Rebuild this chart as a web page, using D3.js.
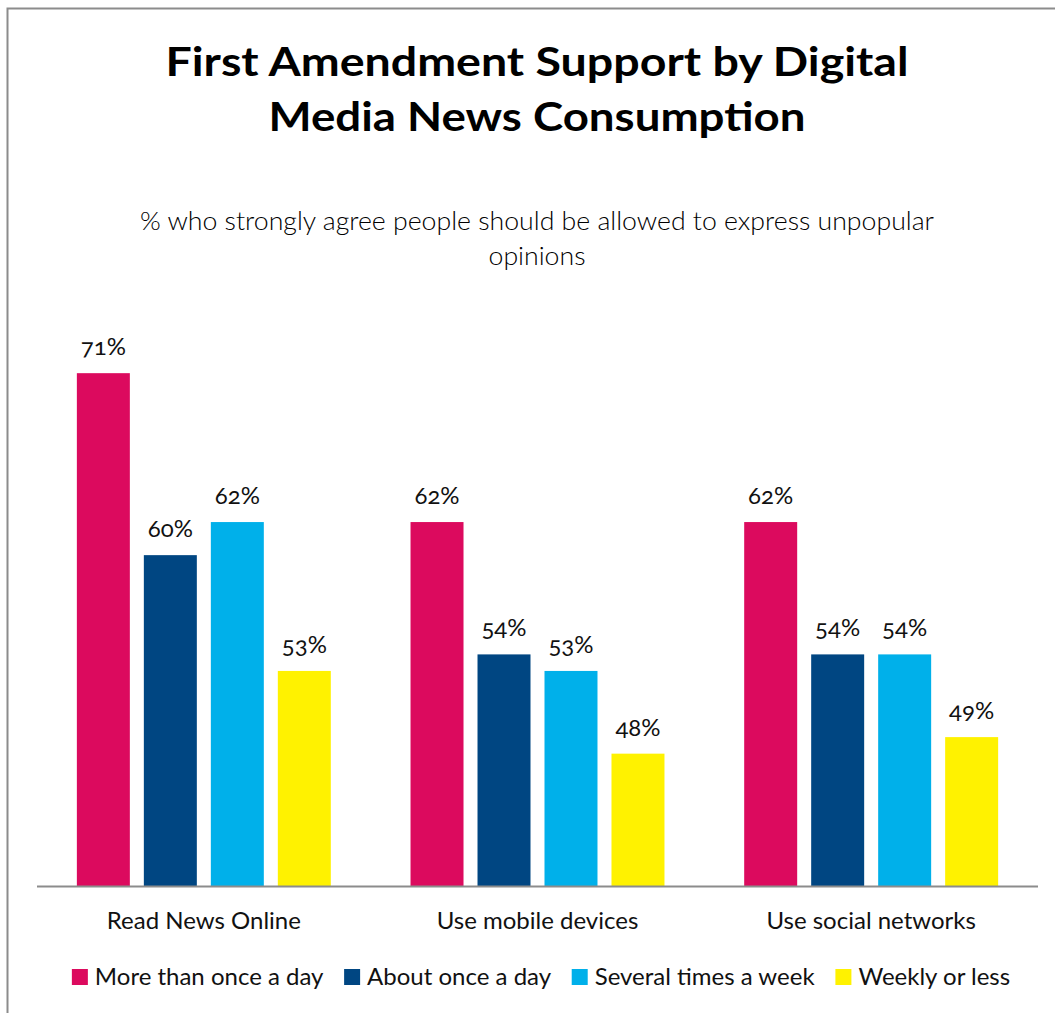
<!DOCTYPE html>
<html>
<head>
<meta charset="utf-8">
<script src="https://cdn.jsdelivr.net/npm/d3@7"></script>
<style>
  html, body { margin: 0; padding: 0; background: #fff; }
  svg { display: block; font-family: Lato, "Open Sans", sans-serif; }
</style>
</head>
<body>
<svg id="chart" width="1055" height="1013"></svg>
<script>
// Survey groups and consumption-frequency series
const categories = ["Read News Online", "Use mobile devices", "Use social networks"];
const seriesNames = ["More than once a day", "About once a day", "Several times a week", "Weekly or less"];
const seriesColors = ["#DC0A5E", "#004682", "#00B0EA", "#FFF200"];
// values[series][category], percent strongly agreeing
const moreThanOnceADay = [71, 62, 62];
const aboutOnceADay = [60, 54, 54];
const severalTimesAWeek = [62, 53, 54];
const weeklyOrLess = [53, 48, 49];
const values = [moreThanOnceADay, aboutOnceADay, severalTimesAWeek, weeklyOrLess];
const yDomain = [40, 75];
const titleLines = ["First Amendment Support by Digital", "Media News Consumption"];
const subtitleLines = ["% who strongly agree people should be allowed to express unpopular", "opinions"];

const svg = d3.select("#chart");
const W = 1055, H = 1013;

// outer frame
svg.append("rect")
  .attr("x", 7.5).attr("y", 8.5).attr("width", W + 10).attr("height", H + 10)
  .attr("fill", "none").attr("stroke", "#8c8c8c").attr("stroke-width", 2);

// titles
const title = svg.append("g").attr("text-anchor", "middle");
const titleWidths = [743, 537];
titleLines.forEach((t, i) => {
  title.append("text")
    .attr("x", 537).attr("y", 76 + i * 55)
    .attr("font-size", 41).attr("font-weight", 700).attr("fill", "#000")
    .attr("textLength", titleWidths[i]).attr("lengthAdjust", "spacingAndGlyphs")
    .text(t);
});
const subWidths = [794, 97];
subtitleLines.forEach((t, i) => {
  title.append("text")
    .attr("x", 537).attr("y", 230 + i * 35)
    .attr("font-size", 25).attr("font-weight", 300).attr("fill", "#000")
    .attr("textLength", subWidths[i]).attr("lengthAdjust", "spacingAndGlyphs")
    .text(t);
});

// scales
const x0 = d3.scaleBand().domain(categories).range([37, 1038]).paddingInner(0).paddingOuter(0);
const x1 = d3.scaleBand().domain(seriesNames).range([0, x0.bandwidth()])
  .paddingInner(0.209).paddingOuter(0.595);
const y = d3.scaleLinear().domain(yDomain).range([886, 307]);

const rows = [];
categories.forEach((c, ci) => {
  seriesNames.forEach((s, si) => rows.push({ c, s, si, v: values[si][ci] }));
});

const bars = svg.append("g");
bars.selectAll("rect").data(rows).join("rect")
  .attr("x", d => x0(d.c) + x1(d.s))
  .attr("y", d => y(d.v))
  .attr("width", x1.bandwidth())
  .attr("height", d => y(yDomain[0]) - y(d.v))
  .attr("fill", d => seriesColors[d.si]);

bars.selectAll("text").data(rows).join("text")
  .attr("x", d => x0(d.c) + x1(d.s) + x1.bandwidth() / 2)
  .attr("y", d => y(d.v) - 18)
  .attr("text-anchor", "middle")
  .attr("font-size", 24).attr("fill", "#111")
  .style("font-variant-numeric", "oldstyle-nums")
  .text(d => d.v + "%");

// category axis
const xAxis = svg.append("g").attr("transform", `translate(0,${y(yDomain[0])})`)
  .call(d3.axisBottom(x0).tickSize(0).tickPadding(43));
xAxis.select(".domain").attr("stroke", "#8c8c8c").attr("stroke-width", 2)
  .attr("d", `M37,0.5H1038`);
xAxis.selectAll("text").attr("font-size", 24).attr("fill", "#111")
  .attr("font-family", "Lato, sans-serif").attr("dy", "0");

// legend
const legend = svg.append("g").attr("transform", "translate(0,985)");
const items = legend.selectAll("g").data(seriesNames).join("g");
items.append("rect").attr("x", 0).attr("y", -16).attr("width", 16).attr("height", 16)
  .attr("fill", (d, i) => seriesColors[i]);
items.append("text").attr("x", 23).attr("y", 0)
  .attr("font-size", 24).attr("fill", "#111").text(d => d);
let cx = 0;
const gap = 20;
items.each(function () {
  const w = this.getBBox().width;
  d3.select(this).attr("transform", `translate(${cx},0)`);
  cx += w + gap;
});
const total = cx - gap;
legend.attr("transform", `translate(${541 - total / 2},985)`);
</script>
</body>
</html>
